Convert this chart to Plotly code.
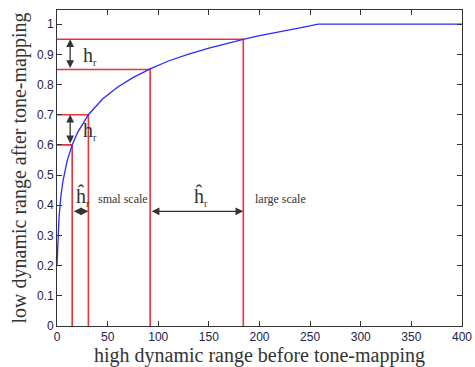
import plotly.graph_objects as go

# Tone-mapping curve
hdr_x = [0, 0.5, 1, 2, 4, 6, 10, 15, 20, 31, 45, 60, 75, 92, 110, 130, 150, 170, 184, 200, 220, 240, 258, 400]
ldr_y = [0.2, 0.262, 0.303, 0.361, 0.434, 0.482, 0.547, 0.600, 0.639, 0.700, 0.752, 0.792, 0.823, 0.852,
         0.878, 0.901, 0.921, 0.939, 0.950, 0.962, 0.976, 0.988, 1.0, 1.0]

# Red guide lines: thresholds on x and corresponding levels on y
thresholds = [15, 31, 92, 184]
levels = [0.6, 0.7, 0.85, 0.95]

x_ticks = [0, 50, 100, 150, 200, 250, 300, 350, 400]
y_ticks = [0, 0.1, 0.2, 0.3, 0.4, 0.5, 0.6, 0.7, 0.8, 0.9, 1]
y_tick_labels = ["0", "0.1", "0.2", "0.3", "0.4", "0.5", "0.6", "0.7", "0.8", "0.9", "1"]

fig = go.Figure()

for t, lv in zip(thresholds, levels):
    fig.add_trace(go.Scatter(x=[0, t, t], y=[lv, lv, 0], mode="lines",
                             line=dict(color="#e8323c", width=1.6), hoverinfo="skip"))

fig.add_trace(go.Scatter(x=hdr_x, y=ldr_y, mode="lines",
                         line=dict(color="#2a2aff", width=1.3)))

serif = "Liberation Serif, Times New Roman, serif"
arrow_col = "#333333"

# vertical double arrows
v_arrow_x = 13
for (y0, y1) in [(levels[2], levels[3]), (levels[0], levels[1])]:
    fig.add_annotation(x=v_arrow_x, y=y1, ax=v_arrow_x, ay=y0, xref="x", yref="y", axref="x", ayref="y",
                       showarrow=True, arrowhead=2, arrowside="end+start", arrowsize=1.2,
                       arrowwidth=1.3, arrowcolor=arrow_col, text="")
# horizontal double arrows
h_arrow_y = 0.38
for (x0, x1) in [(thresholds[0], thresholds[1]), (thresholds[2], thresholds[3])]:
    fig.add_annotation(x=x1, y=h_arrow_y, ax=x0, ay=h_arrow_y, xref="x", yref="y", axref="x", ayref="y",
                       showarrow=True, arrowhead=2, arrowside="end+start", arrowsize=1.2,
                       arrowwidth=1.3, arrowcolor=arrow_col, text="")

sub_r = "<sub><span style='font-size:10px'>r</span></sub>"
labels = [
    (24, 0.895, "h" + sub_r, 20, "left"),
    (24, 0.645, "h" + sub_r, 20, "left"),
    (17, 0.43, "ĥ" + sub_r, 20, "left"),
    (133, 0.43, "ĥ" + sub_r, 20, "left"),
    (65, 0.42, "smal scale", 12, "center"),
    (221, 0.42, "large scale", 12, "center"),
]
for x, y, txt, sz, anc in labels:
    fig.add_annotation(x=x, y=y, xref="x", yref="y", text=txt, showarrow=False, xanchor=anc,
                       font=dict(family=serif, size=sz, color="#333333"))

axis_common = dict(showline=True, linecolor="#333333", linewidth=1, mirror="ticks",
                   ticks="inside", ticklen=5, tickcolor="#333333", showgrid=False, zeroline=False,
                   automargin=False,
                   tickfont=dict(family="Liberation Sans, Arial, sans-serif", size=12, color="#22224a"))

fig.update_layout(
    width=475, height=367,
    margin=dict(l=57, r=13, t=10, b=41),
    paper_bgcolor="white", plot_bgcolor="white",
    showlegend=False,
    xaxis=dict(range=[0, 400], tickvals=x_ticks,
               title=dict(text="high dynamic range before tone-mapping", standoff=2,
                          font=dict(family=serif, size=20, color="#333333")),
               **axis_common),
    yaxis=dict(range=[0, 1.047], tickvals=y_ticks, ticktext=y_tick_labels,
               title=dict(text="low dynamic range after tone-mapping", standoff=4,
                          font=dict(family=serif, size=20, color="#333333")),
               **axis_common),
)

fig.write_html("out.html", config={"displayModeBar": False},
               post_script="document.body.style.margin='0';document.body.style.overflow='hidden';")
